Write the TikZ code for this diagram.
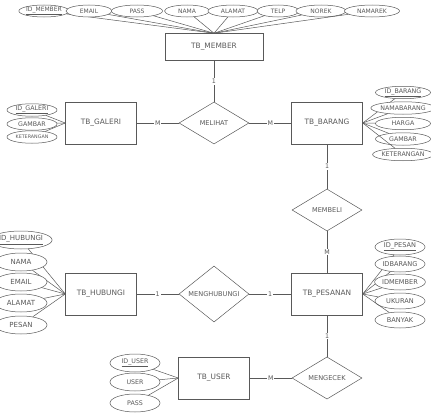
\documentclass[tikz,border=0pt]{standalone}
\usepackage{fontspec}
\setmainfont{DejaVu Sans}
\usetikzlibrary{positioning,shapes.geometric}

\newcommand{\fs}[1]{\fontsize{#1}{#1}\selectfont}

\begin{document}
\begin{tikzpicture}[x=1pt,y=-1pt,node distance=113pt,on grid,
    color=black!65,line width=0.5pt,
    entity/.style={draw,minimum width=71pt,minimum height=42pt,font=\fs{7.4}},
    rel/.style={draw,diamond,inner sep=0pt,minimum width=70pt,minimum height=42pt,font=\fs{6.6}},
    attr/.style={draw,ellipse,fill=white,inner sep=0pt,minimum width=50pt,minimum height=16pt,font=\fs{6.3}},
    card/.style={fill=white,inner sep=1pt,font=\fs{6.3}}]
    \useasboundingbox (0,0) rectangle (431,415);

    % entitas dan relasi
    \node[entity,minimum width=98pt,minimum height=27pt] (member) at (214,47) {TB\_MEMBER};
    \node[rel]    (melihat)     [below=76pt of member]  {MELIHAT};
    \node[entity] (galeri)      [left=of melihat]       {TB\_GALERI};
    \node[entity] (barang)      [right=of melihat]      {TB\_BARANG};
    \node[rel]    (membeli)     [below=87pt of barang]  {MEMBELI};
    \node[entity] (pesanan)     [below=84pt of membeli] {TB\_PESANAN};
    \node[rel]    (menghubungi) [left=of pesanan]       {MENGHUBUNGI};
    \node[entity] (hubungi)     [left=of menghubungi]   {TB\_HUBUNGI};
    \node[rel]    (mengecek)    [below=84pt of pesanan] {MENGECEK};
    \node[entity] (user)        [left=of mengecek]      {TB\_USER};

    % atribut
    \foreach \txt/\x/\w [count=\i] in {{\underline{ID\_MEMBER}}/44/45, EMAIL/89/46, PASS/137/51,
        NAMA/187/45, ALAMAT/233/50, TELP/278/42, NOREK/321/50, NAMAREK/372/55}
    {
        \node[attr,minimum width=\w pt,minimum height=12pt,font=\fs{6}] (m_\i) at (\x,11) {\txt};
        \draw (m_\i) -- (member.north);
    }
    \foreach \txt/\y [count=\i] in {{\underline{ID\_GALERI}}/110, GAMBAR/124, {\fs{4.8}KETERANGAN}/137}
    {
        \node[attr,minimum height=12.5pt] (g_\i) at (32,\y) {\txt};
        \draw (g_\i) -- (galeri.west);
    }
    \foreach \txt/\y [count=\i] in {{\underline{ID\_BARANG}}/92.5, NAMABARANG/108, HARGA/123.5,
        GAMBAR/139, KETERANGAN/154.5}
    {
        \node[attr,minimum width=55pt,minimum height=12.5pt] (b_\i) at (403,\y) {\txt};
        \draw (b_\i) -- (barang.east);
    }
    \foreach \txt/\y [count=\i] in {{\underline{ID\_PESAN}}/247, IDBARANG/264, IDMEMBER/282,
        UKURAN/301, BANYAK/320}
    {
        \node[attr,font=\fs{6.6}] (p_\i) at (400,\y) {\txt};
        \draw (p_\i) -- (pesanan.east);
    }
    \foreach \txt/\y [count=\i] in {{\underline{ID\_HUBUNGI}}/240, NAMA/262, EMAIL/282,
        ALAMAT/303, PESAN/325}
    {
        \node[attr,minimum width=52pt,minimum height=18pt,font=\fs{7}] (h_\i) at (21,\y) {\txt};
        \draw (h_\i) -- (hubungi.west);
    }
    \foreach \txt/\y [count=\i] in {{\underline{ID\_USER}}/363, USER/382, PASS/403}
    {
        \node[attr,minimum height=18pt] (u_\i) at (135,\y) {\txt};
        \draw (u_\i) -- (user.west);
    }

    % relasi
    \draw (member)      -- node[card] {1} (melihat);
    \draw (galeri)      -- node[card] {M} (melihat);
    \draw (melihat)     -- node[card] {M} (barang);
    \draw (barang)      -- node[card] {1} (membeli);
    \draw (membeli)     -- node[card] {M} (pesanan);
    \draw (hubungi)     -- node[card] {1} (menghubungi);
    \draw (menghubungi) -- node[card] {1} (pesanan);
    \draw (pesanan)     -- node[card] {1} (mengecek);
    \draw (user)        -- node[card] {M} (mengecek);
\end{tikzpicture}
\end{document}
